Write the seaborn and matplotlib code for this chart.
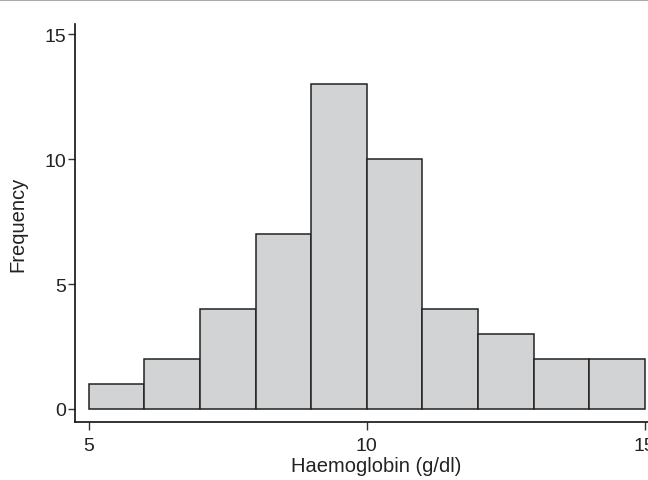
import matplotlib
matplotlib.use("Agg")
import matplotlib.pyplot as plt
import seaborn as sns
import numpy as np
from matplotlib.lines import Line2D

# Haemoglobin histogram: bin edges and counts
bin_edges = [5, 6, 7, 8, 9, 10, 11, 12, 13, 14, 15]
counts = [1, 2, 4, 7, 13, 10, 4, 3, 2, 2]
bin_mids = [(a + b) / 2 for a, b in zip(bin_edges[:-1], bin_edges[1:])]

sns.set_style("ticks")
plt.rcParams['font.family'] = ['Liberation Sans', 'DejaVu Sans']

fig = plt.figure(figsize=(6.48, 4.81), dpi=100)
ax = fig.add_axes([0.1157, 0.1206, 0.8843, 0.827])

sns.histplot(x=bin_mids, weights=counts, bins=bin_edges, ax=ax,
             color="#d2d3d5", edgecolor="#222222", linewidth=1.1, alpha=1)

ax.set_xlim(4.75, 15.06)
ax.set_ylim(-0.52, 15.4)
ax.set_xticks([5, 10, 15])
ax.set_yticks([0, 5, 10, 15])
ax.tick_params(axis="both", labelsize=14, labelcolor="#222222", color="#333333", width=1)
ax.tick_params(axis="x", length=6, pad=5)
ax.tick_params(axis="y", length=5, pad=1.5)
ax.set_xlabel("Haemoglobin (g/dl)", fontsize=14.5, color="#222222", labelpad=1)
ax.xaxis.set_label_coords(0.525, -0.085)
ax.set_ylabel("Frequency", fontsize=14.5, color="#222222", labelpad=12)
for s in ["top", "right"]:
    ax.spines[s].set_visible(False)
for s in ["left", "bottom"]:
    ax.spines[s].set_linewidth(1.2)
    ax.spines[s].set_color("#111111")

# thin grey rule across the top of the figure
fig.add_artist(Line2D([0, 1], [0.997, 0.997], transform=fig.transFigure,
                      color="#aaaaaa", linewidth=1.5))

fig.savefig("out.png", dpi=100)
